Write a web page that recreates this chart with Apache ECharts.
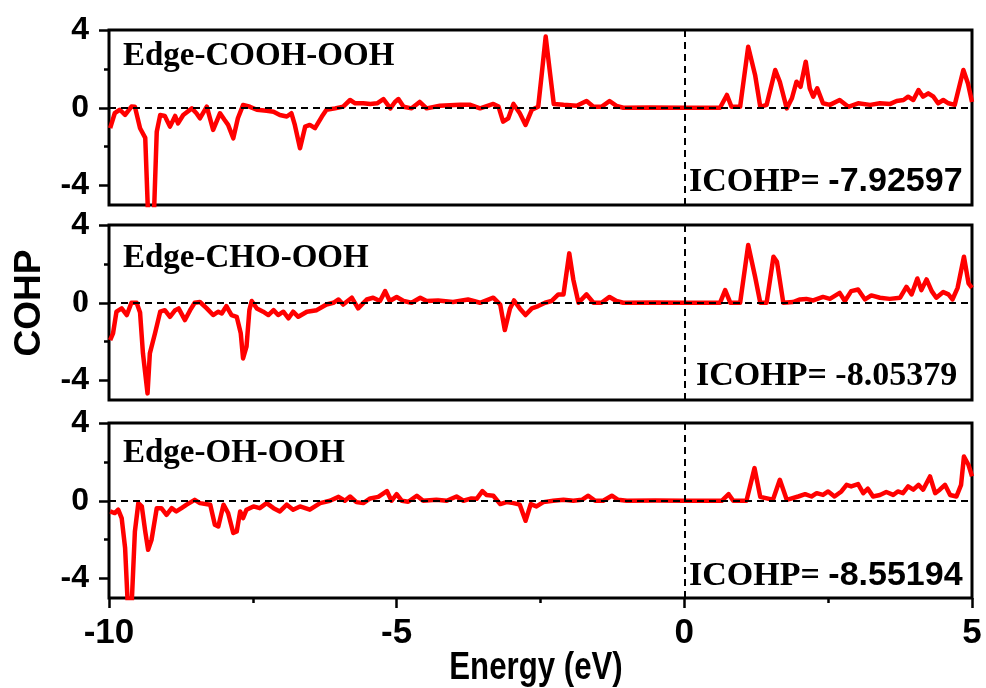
<!DOCTYPE html>
<html>
<head>
<meta charset="utf-8">
<script src="https://cdn.jsdelivr.net/npm/echarts@6/dist/echarts.min.js"></script>
<style>
  html, body { margin: 0; padding: 0; background: #fff; }
  #chart { width: 986px; height: 688px; }
</style>
</head>
<body>
<div id="chart"></div>
<script>
// COHP curves (energy in eV, COHP value) for the three adsorption configurations
const cohpCoohOoh = [
  [-9.98,-1.05],[-9.90,-0.28],[-9.81,-0.10],[-9.72,-0.37],[-9.61,0.06],[-9.55,0.05],[-9.46,-1.05],[-9.37,-1.55],
  [-9.32,-5.6],[-9.22,-5.6],[-9.17,-1.23],[-9.11,-0.37],[-9.03,-0.42],[-8.94,-0.97],[-8.85,-0.42],[-8.80,-0.80],
  [-8.71,-0.37],[-8.56,-0.03],[-8.48,-0.28],[-8.42,-0.54],[-8.30,0.06],[-8.19,-1.14],[-8.07,-0.28],[-7.99,-0.63],
  [-7.93,-0.88],[-7.84,-1.57],[-7.76,-0.54],[-7.67,0.14],[-7.55,0.05],[-7.43,-0.10],[-7.26,-0.15],[-7.14,-0.20],
  [-7.03,-0.37],[-6.91,-0.45],[-6.83,-0.28],[-6.77,-0.88],[-6.68,-2.08],[-6.59,-0.97],[-6.51,-0.88],[-6.42,-1.05],
  [-6.30,-0.45],[-6.22,-0.10],[-6.07,-0.03],[-5.93,0.06],[-5.81,0.40],[-5.72,0.23],[-5.58,0.23],[-5.46,0.20],
  [-5.34,0.23],[-5.23,0.45],[-5.11,-0.03],[-5.03,0.30],[-4.97,0.45],[-4.88,0.05],[-4.74,-0.03],[-4.60,0.30],
  [-4.48,-0.03],[-4.25,0.10],[-3.90,0.15],[-3.72,0.15],[-3.55,-0.03],[-3.32,0.20],[-3.23,0.06],[-3.15,-0.71],
  [-3.06,-0.54],[-2.97,0.20],[-2.86,-0.28],[-2.76,-0.88],[-2.65,-0.10],[-2.54,0.05],[-2.48,1.69],[-2.41,3.66],
  [-2.33,1.67],[-2.27,0.20],[-2.10,0.15],[-1.87,0.10],[-1.70,0.35],[-1.58,0.05],[-1.44,0.05],[-1.30,0.35],
  [-1.18,0.10],[-1.06,0.00],[-0.60,0.02],[0.00,0.00],[0.62,0.00],[0.74,0.66],[0.82,0.05],[0.97,0.05],
  [1.11,3.14],[1.23,1.69],[1.32,0.05],[1.43,0.15],[1.58,1.94],[1.66,1.34],[1.78,-0.03],[1.87,0.49],
  [1.95,1.34],[2.02,1.08],[2.11,2.37],[2.18,1.00],[2.24,0.57],[2.31,1.00],[2.41,0.23],[2.53,0.15],
  [2.70,0.40],[2.85,0.05],[3.02,0.23],[3.23,0.15],[3.40,0.23],[3.58,0.20],[3.69,0.35],[3.81,0.40],
  [3.89,0.57],[3.98,0.40],[4.07,0.91],[4.15,0.57],[4.24,0.74],[4.33,0.57],[4.41,0.23],[4.50,0.40],
  [4.59,0.23],[4.70,0.15],[4.85,1.94],[4.93,1.25],[5.00,0.30]
];

const cohpChoOoh = [
  [-9.98,-1.92],[-9.93,-1.57],[-9.87,-0.46],[-9.78,-0.29],[-9.69,-0.63],[-9.61,0.00],[-9.52,0.00],[-9.46,-0.50],
  [-9.41,-2.60],[-9.33,-4.66],[-9.29,-2.60],[-9.20,-1.57],[-9.11,-0.46],[-9.03,-0.38],[-8.94,-0.72],[-8.85,-0.38],
  [-8.79,-0.29],[-8.68,-0.89],[-8.59,-0.38],[-8.51,0.00],[-8.42,0.04],[-8.30,-0.29],[-8.19,-0.63],[-8.10,-0.46],
  [-8.04,-0.55],[-7.96,-0.17],[-7.87,-0.63],[-7.78,-0.72],[-7.71,-1.57],[-7.67,-2.86],[-7.61,-2.26],[-7.56,-0.38],
  [-7.52,0.09],[-7.43,-0.29],[-7.32,-0.46],[-7.23,-0.63],[-7.14,-0.38],[-7.06,-0.63],[-6.97,-0.46],[-6.88,-0.80],
  [-6.80,-0.46],[-6.71,-0.72],[-6.56,-0.46],[-6.39,-0.38],[-6.22,-0.09],[-6.10,0.00],[-6.01,0.17],[-5.93,-0.09],
  [-5.78,0.26],[-5.67,-0.29],[-5.52,0.17],[-5.41,0.26],[-5.29,0.09],[-5.20,0.60],[-5.12,0.09],[-5.00,0.30],
  [-4.88,0.09],[-4.74,0.00],[-4.59,0.26],[-4.48,0.09],[-4.28,0.12],[-4.02,0.04],[-3.76,0.17],[-3.55,0.00],
  [-3.32,0.26],[-3.20,-0.09],[-3.12,-1.40],[-3.03,-0.29],[-2.96,0.12],[-2.86,-0.29],[-2.76,-0.63],[-2.65,-0.29],
  [-2.54,-0.17],[-2.42,0.00],[-2.31,0.09],[-2.19,0.43],[-2.10,0.43],[-2.00,2.54],[-1.93,1.20],[-1.84,0.00],
  [-1.70,0.43],[-1.58,0.00],[-1.44,0.00],[-1.30,0.30],[-1.18,0.09],[-1.06,0.00],[-0.50,0.02],[0.00,0.00],
  [0.62,0.00],[0.71,0.65],[0.80,0.00],[0.97,0.00],[1.11,2.97],[1.23,1.34],[1.32,0.00],[1.43,0.00],
  [1.55,2.37],[1.61,2.11],[1.72,0.00],[1.89,0.04],[2.01,0.17],[2.12,0.20],[2.24,0.12],[2.41,0.30],
  [2.53,0.20],[2.70,0.51],[2.79,0.09],[2.90,0.60],[3.02,0.68],[3.14,0.17],[3.25,0.38],[3.40,0.26],
  [3.57,0.20],[3.75,0.26],[3.86,0.82],[3.95,0.43],[4.05,1.25],[4.12,0.65],[4.21,1.20],[4.30,0.60],
  [4.38,0.26],[4.50,0.55],[4.59,0.43],[4.66,0.17],[4.75,0.77],[4.86,2.37],[4.94,1.00],[5.00,0.77]
];

const cohpOhOoh = [
  [-9.98,-0.55],[-9.90,-0.63],[-9.84,-0.46],[-9.78,-0.89],[-9.72,-2.43],[-9.67,-5.6],[-9.61,-5.6],[-9.55,-1.58],
  [-9.49,-0.12],[-9.43,-0.29],[-9.37,-1.58],[-9.32,-2.52],[-9.26,-2.00],[-9.17,-0.38],[-9.09,-0.38],[-9.00,-0.72],
  [-8.91,-0.38],[-8.83,-0.55],[-8.74,-0.38],[-8.65,-0.20],[-8.51,0.05],[-8.42,-0.12],[-8.24,-0.20],[-8.16,-1.23],
  [-8.10,-1.32],[-8.01,-0.20],[-7.93,-0.63],[-7.84,-1.66],[-7.78,-1.58],[-7.72,-0.55],[-7.67,-0.89],[-7.61,-0.46],
  [-7.49,-0.29],[-7.38,-0.38],[-7.26,-0.12],[-7.14,-0.38],[-7.03,-0.55],[-6.91,-0.20],[-6.80,-0.46],[-6.68,-0.29],
  [-6.51,-0.46],[-6.33,-0.12],[-6.16,0.00],[-6.01,0.20],[-5.90,0.00],[-5.81,0.22],[-5.70,-0.07],[-5.58,-0.12],
  [-5.46,0.12],[-5.32,0.20],[-5.17,0.50],[-5.09,0.00],[-5.00,0.34],[-4.91,0.00],[-4.80,-0.05],[-4.65,0.26],
  [-4.54,0.00],[-4.31,0.05],[-4.13,0.00],[-3.96,0.22],[-3.84,0.00],[-3.70,0.12],[-3.61,0.10],[-3.51,0.50],
  [-3.44,0.30],[-3.32,0.26],[-3.20,-0.17],[-3.09,-0.07],[-2.97,-0.12],[-2.86,-0.20],[-2.76,-1.03],[-2.67,-0.17],
  [-2.57,-0.29],[-2.45,-0.07],[-2.28,0.00],[-2.10,0.05],[-1.93,0.00],[-1.78,0.05],[-1.67,0.26],[-1.55,0.00],
  [-1.41,0.00],[-1.26,0.26],[-1.15,0.05],[-1.00,0.00],[-0.50,0.01],[0.00,0.00],[0.65,0.00],[0.77,0.34],
  [0.85,0.00],[1.08,0.00],[1.22,1.68],[1.32,0.20],[1.54,0.05],[1.66,1.08],[1.78,0.05],[1.98,0.22],
  [2.10,0.34],[2.21,0.22],[2.30,0.39],[2.41,0.30],[2.50,0.48],[2.61,0.22],[2.73,0.48],[2.82,0.82],
  [2.90,0.74],[3.02,0.86],[3.11,0.39],[3.19,0.62],[3.28,0.22],[3.40,0.30],[3.51,0.45],[3.63,0.30],
  [3.71,0.48],[3.80,0.39],[3.89,0.74],[3.98,0.57],[4.07,0.82],[4.15,0.57],[4.27,1.25],[4.36,0.39],
  [4.44,0.57],[4.53,0.82],[4.62,0.30],[4.73,0.22],[4.81,0.82],[4.86,2.28],[4.94,1.84],[5.00,1.25]
];

const panelNames = ['Edge-COOH-OOH', 'Edge-CHO-OOH', 'Edge-OH-OOH'];
const icohpValues = ['-7.92597', '-8.05379', '-8.55194'];
const energyTicks = [-10, -5, 0, 5];
const cohpMajorTicks = [-4, 0, 4];
const cohpMinorTicks = [-2, 2];

const seriesData = [cohpCoohOoh, cohpChoOoh, cohpOhOoh];

const chart = echarts.init(document.getElementById('chart'), null, { renderer: 'canvas' });

const gridTops = [30, 225, 423];
const gridHeight = 175;
const sansBold = "'Liberation Sans', Arial, sans-serif";
const serifBold = "'Liberation Serif', 'Times New Roman', serif";

const grids = gridTops.map(t => ({
  left: 109, right: 14, top: t, height: gridHeight,
  outerBoundsMode: 'none', containLabel: false,
  show: true, borderColor: '#000', borderWidth: 3, backgroundColor: 'transparent'
}));

const xAxes = gridTops.map((t, i) => {
  const bottom = i === 2;
  return {
    type: 'value', gridIndex: i, min: -10, max: 5, interval: 5, position: 'bottom',
    axisLine: { show: false, onZero: false },
    splitLine: { show: false },
    axisTick: { show: bottom, length: 10, lineStyle: { color: '#000', width: 2.5 } },
    minorTick: { show: bottom, splitNumber: 2, length: 5, lineStyle: { color: '#000', width: 2.5 } },
    axisLabel: {
      show: bottom, margin: 18, color: '#000', fontWeight: 'bold', fontSize: 35, fontFamily: sansBold,
      customValues: energyTicks
    }
  };
});

const yAxes = [];
gridTops.forEach((t, i) => {
  yAxes.push({
    type: 'value', gridIndex: i, min: -5, max: 4, position: 'left',
    axisLine: { show: false, onZero: false },
    splitLine: { show: false },
    axisTick: { show: true, length: 10, customValues: cohpMajorTicks, lineStyle: { color: '#000', width: 2.5 } },
    axisLabel: {
      show: true, margin: 20, color: '#000', fontWeight: 'bold', fontSize: 32, fontFamily: sansBold,
      customValues: cohpMajorTicks,
      formatter: v => (i === 1 && v === 0) ? '{s|0}' : String(v),
      rich: { s: { fontFamily: serifBold, fontWeight: 'bold', fontSize: 34, color: '#000' } }
    }
  });
  yAxes.push({
    type: 'value', gridIndex: i, min: -5, max: 4, position: 'left',
    axisLine: { show: false, onZero: false }, splitLine: { show: false },
    axisTick: { show: true, length: 5, customValues: cohpMinorTicks, lineStyle: { color: '#000', width: 2.5 } },
    axisLabel: { show: false }
  });
});

const series = [];
seriesData.forEach((d, i) => {
  series.push({
    type: 'line', xAxisIndex: i, yAxisIndex: i * 2, data: d,
    showSymbol: false, clip: true, smooth: false,
    lineStyle: { color: '#ff0000', width: 4.5, join: 'round' },
    z: 2, silent: true, animation: false
  });
  series.push({
    type: 'line', xAxisIndex: i, yAxisIndex: i * 2, data: [],
    z: 3, silent: true, animation: false,
    markLine: {
      silent: true, symbol: 'none', animation: false, label: { show: false },
      lineStyle: { color: '#000', width: 2, type: [7, 5] },
      data: [{ yAxis: 0 }, { xAxis: 0 }]
    }
  });
});

// Panel captions, integrated COHP annotations and axis titles
const captionTop = [40, 242, 437];
const icohpTop = [165, 359, 559];
const icohpX = [689, 696, 689];
const graphic = [];
panelNames.forEach((name, i) => {
  graphic.push({
    type: 'text', left: 123, top: captionTop[i], silent: true,
    style: { text: name, fill: '#000', font: `bold 33px ${serifBold}` }
  });
  const serifValue = i === 1;
  graphic.push({
    type: 'text', left: icohpX[i], top: icohpTop[i], silent: true,
    style: {
      text: `{a|ICOHP= }{${serifValue ? 'a' : 'b'}|${icohpValues[i]}}`,
      rich: {
        a: { fontFamily: serifBold, fontWeight: 'bold', fontSize: 34, fill: '#000' },
        b: { fontFamily: sansBold, fontWeight: 'bold', fontSize: 34, fill: '#000' }
      }
    }
  });
});
graphic.push({
  type: 'text', x: 30, y: 303, rotation: Math.PI / 2, silent: true,
  style: { text: 'COHP', fill: '#000', font: `bold 37px ${sansBold}`, align: 'center', verticalAlign: 'middle' }
});
graphic.push({
  type: 'text', x: 536, y: 668, scaleX: 0.8, silent: true,
  style: { text: 'Energy (eV)', fill: '#000', font: `bold 39px ${sansBold}`, align: 'center', verticalAlign: 'middle' }
});

chart.setOption({
  animation: false,
  backgroundColor: '#fff',
  grid: grids,
  xAxis: xAxes,
  yAxis: yAxes,
  series: series,
  graphic: graphic
});
</script>
</body>
</html>
